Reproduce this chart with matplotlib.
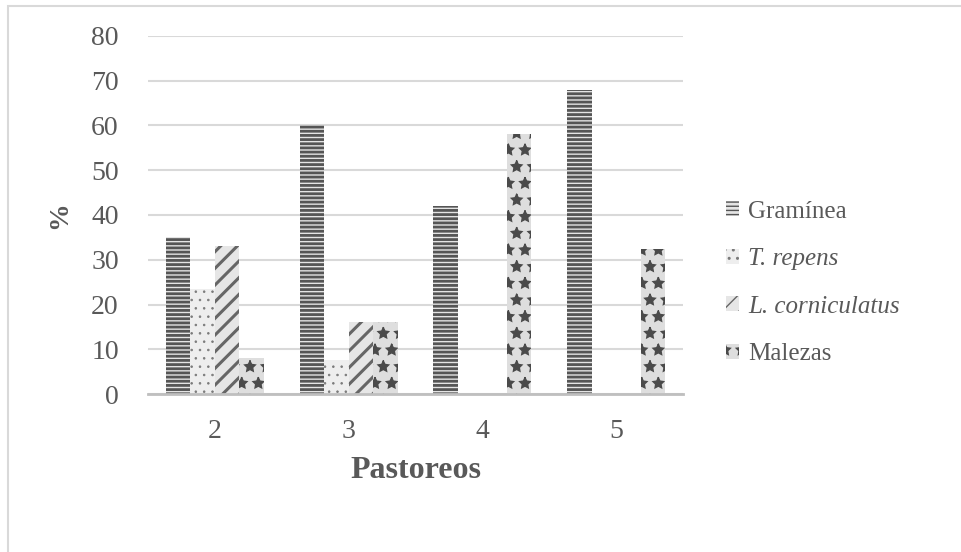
import matplotlib
matplotlib.use("Agg")
import matplotlib.pyplot as plt
import numpy as np
from matplotlib.patches import Rectangle

plt.rcParams['font.family'] = ['Liberation Serif', 'DejaVu Serif']

categories = ["2", "3", "4", "5"]
series_names = ["Gramínea", "T. repens", "L. corniculatus", "Malezas"]
graminea = [35, 60, 42, 68]
t_repens = [23.5, 7.7, 0, 0]
l_corniculatus = [33, 16, 0, 0]
malezas = [8, 16, 58, 32.3]
y_ticks = [0, 10, 20, 30, 40, 50, 60, 70, 80]

series = [graminea, t_repens, l_corniculatus, malezas]
styles = [
    dict(facecolor="#e4e4e4", hatch="----", edgecolor="#555555"),
    dict(facecolor="#eeeeee", hatch="..", edgecolor="#7a7a7a"),
    dict(facecolor="#e6e6e6", hatch="//", edgecolor="#666666"),
    dict(facecolor="#dedede", hatch="*", edgecolor="#4a4a4a"),
]
hatch_widths = [2.0, 0.6, 2.2, 1.0]

fig = plt.figure(figsize=(9.61, 5.52), dpi=100)
ax = fig.add_axes([148 / 961, 1 - 394 / 552, 535 / 961, 358 / 552])

# outer frame
fig.add_artist(Rectangle((8 / 961, -0.05), 1.2, 1 - 6 / 552 + 0.05,
                         transform=fig.transFigure, fill=False,
                         edgecolor="#d9d9d9", linewidth=1.5))

x = np.arange(len(categories))
width = 0.183
offsets = (np.arange(4) - 1.5) * width
for vals, off, st, name, hw in zip(series, offsets, styles, series_names, hatch_widths):
    with plt.rc_context({"hatch.linewidth": hw}):
        bars = ax.bar(x + off, vals, width, linewidth=0, label=name, **st)
    for b in bars:
        if hasattr(b, "set_hatch_linewidth"):
            b.set_hatch_linewidth(hw)

ax.set_xlim(-0.5, 3.5)
ax.set_ylim(0, 80)
ax.set_yticks(y_ticks)
ax.set_xticks(x)
ax.set_xticklabels(categories)
ax.tick_params(axis="both", length=0, labelsize=20, colors="#595959")
ax.tick_params(axis="x", pad=18)
ax.tick_params(axis="y", pad=21)
ax.yaxis.grid(True, color="#d9d9d9", linewidth=1.5)
ax.set_axisbelow(True)
for s in ["top", "right", "left"]:
    ax.spines[s].set_visible(False)
ax.spines["bottom"].set_color("#bfbfbf")
ax.spines["bottom"].set_linewidth(2)

ax.set_xlabel("Pastoreos", fontsize=23, fontweight="bold", color="#595959", labelpad=9)
ax.set_ylabel("%", fontsize=20, fontweight="bold", color="#595959", labelpad=14)

handles, _ = ax.get_legend_handles_labels()
leg = fig.legend(handles, series_names,
                 loc="center left", bbox_to_anchor=(703 / 961, 1 - 283 / 552),
                 frameon=False, fontsize=18, handlelength=0.55, handleheight=0.55,
                 handletextpad=0.35, labelspacing=1.02, labelcolor="#595959")
for i, t in enumerate(leg.get_texts()):
    if i in (1, 2):
        t.set_fontstyle("italic")

fig.savefig("out.png", dpi=100, facecolor="white")
